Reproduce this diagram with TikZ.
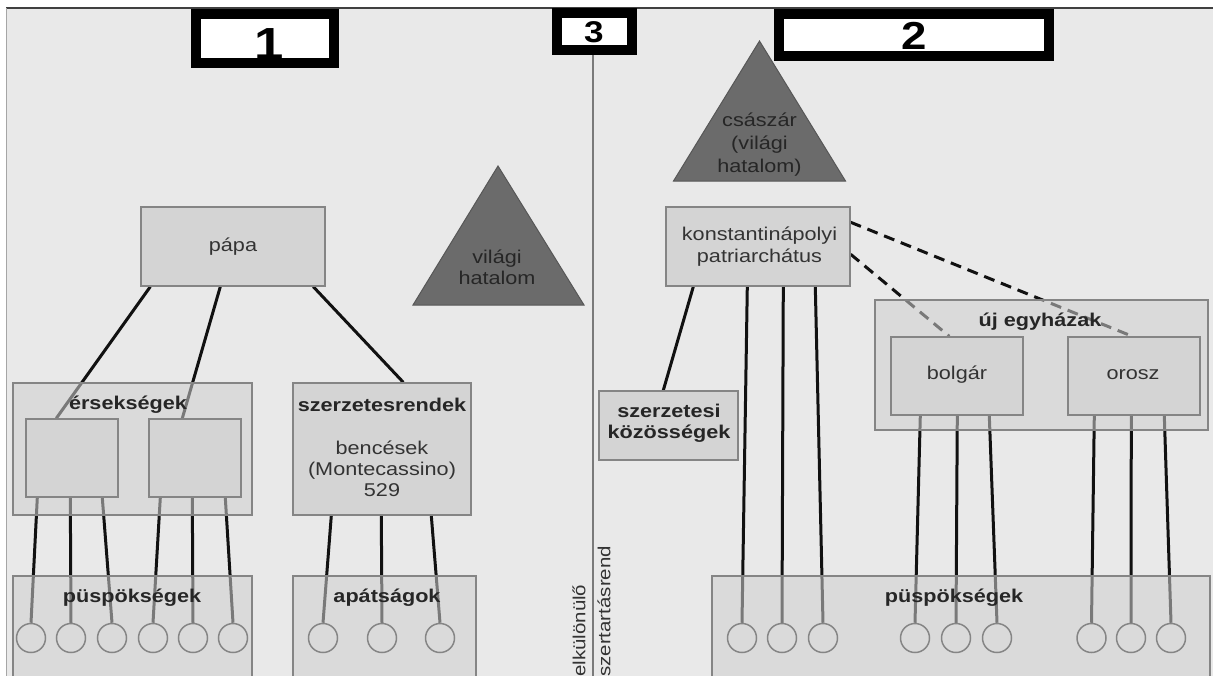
\documentclass[tikz,border=0pt]{standalone}
\usepackage{fontspec}
\setmainfont{Liberation Sans}[FakeStretch=1.17]
\usetikzlibrary{calc}
\pgfdeclarelayer{back}
\pgfdeclarelayer{lines}
\pgfsetlayers{back,lines,main}
\definecolor{bgc}{HTML}{E9E9E9}
\definecolor{boxc}{HTML}{D4D4D4}
\definecolor{contc}{HTML}{CFCFCF}
\definecolor{bordc}{HTML}{858585}
\definecolor{txtc}{HTML}{333333}
\definecolor{tric}{HTML}{6B6B6B}
\definecolor{tribd}{HTML}{575757}
\definecolor{linec}{HTML}{111111}
\definecolor{circc}{HTML}{858585}
\definecolor{sepc}{HTML}{7A7A7A}
\tikzset{
  sbox/.style 2 args={draw=bordc, fill=boxc, line width=1.4pt, inner sep=0pt, minimum width=#1, minimum height=#2},
  cbox/.style 2 args={draw=bordc, fill=contc, fill opacity=0.55, line width=1.4pt, inner sep=0pt, minimum width=#1, minimum height=#2},
  numbox/.style 2 args={draw=black, fill=white, line width=10pt, inner sep=0pt, minimum width=#1, minimum height=#2},
  conn/.style={draw=linec, line width=3pt},
  dconn/.style={conn, dash pattern=on 11pt off 7pt},
  circ/.style={circle, draw=circc, line width=1.5pt, minimum size=29, inner sep=0pt},
  txt/.style={font=\fontsize{18.5}{22}\selectfont, text=txtc, align=center, inner sep=0pt},
  btxt/.style={font=\fontsize{18.5}{21}\selectfont\bfseries, text=black!85, align=center, inner sep=0pt},
  trtxt/.style={font=\fontsize{18.5}{21}\selectfont, text=black!85, align=center, inner sep=0pt},
  rtxt/.style={font=\fontsize{17.5}{20}\selectfont, text=txtc, inner sep=0pt, rotate=90, anchor=west},
  numtxt/.style={font=\fontsize{#1}{#1}\selectfont\bfseries, text=black, inner sep=0pt},
  trif/.style={fill=tric, draw=tribd, line width=1pt, line join=miter}
}
\begin{document}
\begin{tikzpicture}[x=1pt,y=-1pt]
\useasboundingbox (0,0) rectangle (1213,675);
\begin{pgfonlayer}{back}
  \fill[white] (0,0) rectangle (1213,675);
  \fill[bgc] (6,8) rectangle (1213,676);
  \draw[black!75, line width=1.5pt] (6,8) -- (1213,8);
  \draw[black!35, line width=1pt] (6,8) -- (6,676);
\end{pgfonlayer}

% number boxes
\node[numbox={138}{49.5}] (b1) at (265,38.5) {};
\node[numtxt=45] (n1) at (269.5,44) {1};
\node[numbox={75.5}{37.5}] (b3) at (594.5,31.5) {};
\node[numtxt=30] (n3) at (594,32) {3};
\node[numbox={270}{42}] (b2) at (914,35) {};
\node[numtxt=39] (n2) at (914,36) {2};

% separator
\coordinate (sepB) at (593,676);

% triangles
\coordinate (t1a) at (498,166);
\coordinate (t1b) at (584,305);
\coordinate (t1c) at (413,305);
\filldraw[trif] (t1a) -- (t1b) -- (t1c) -- cycle;
\node[trtxt] (vh) at (497,267) {világi\\hatalom};
\coordinate (t2a) at (759.5,41);
\coordinate (t2b) at (845.5,181);
\coordinate (t2c) at (673.5,181);
\filldraw[trif] (t2a) -- (t2b) -- (t2c) -- cycle;
\node[trtxt, font=\fontsize{18.5}{23}\selectfont] (csz) at (759.5,145) {császár\\(világi\\hatalom)};

% left side
\node[sbox={184}{79}] (papa) at (233,246.5) {};
\node[txt] (papat) at (233,247) {pápa};
\node[cbox={239}{132}] (erseg) at (132.5,449) {};
\node[btxt] (ersegt) at (128,405) {érsekségek};
\node[sbox={92}{78}] (e1) at (72,458) {};
\node[sbox={92}{78}] (e2) at (195,458) {};
\node[sbox={178}{132}] (szr) at (382,449) {};
\node[btxt] (szrt) at (382,405) {szerzetesrendek};
\node[txt, font=\fontsize{18.5}{21}\selectfont] (benc) at (382,469) {bencések\\(Montecassino)\\529};
\node[cbox={239}{114}] (pusp1) at (132.5,633) {};
\node[btxt] (pusp1t) at (132,598) {püspökségek};
\node[cbox={183}{114}] (apat) at (384.5,633) {};
\node[btxt] (apatt) at (387,598) {apátságok};
\foreach \n/\x in {c1/31,c2/71,c3/112,c4/153,c5/193,c6/233,a1/323,a2/382,a3/440}
  \node[circ] (\n) at (\x,638) {};

% right side
\node[sbox={184}{79}] (konst) at (758,246.5) {};
\node[txt] (konstt) at (759.5,246.5) {konstantinápolyi\\patriarchátus};
\node[sbox={139}{69}] (szk) at (668.5,425.5) {};
\node[btxt] (szkt) at (669,423) {szerzetesi\\közösségek};
\node[cbox={333}{130}] (uj) at (1041.5,365) {};
\node[btxt] (ujt) at (1040,322) {új egyházak};
\node[sbox={132}{78}] (bolg) at (957,376) {};
\node[txt] (bolgt) at (957,375) {bolgár};
\node[sbox={132}{78}] (orosz) at (1134,376) {};
\node[txt] (oroszt) at (1133,375) {orosz};
\node[cbox={498}{114}] (pusp2) at (961,633) {};
\node[btxt] (pusp2t) at (954,598) {püspökségek};
\foreach \n/\x in {r1/742,r2/782,r3/823,r4/915,r5/956,r6/997,r7/1091.5,r8/1131,r9/1171}
  \node[circ] (\n) at (\x,638) {};

% rotated text
\node[rtxt] (elk) at (579,677) {elkülönülő};
\node[rtxt] (szt) at (604,677) {szertartásrend};

% connectors
\begin{pgfonlayer}{lines}
  \draw[sepc, line width=1.5pt] ([xshift=-1.5pt]b3.south) -- (sepB);
  \draw[conn] ([xshift=10pt]papa.south west) -- ([xshift=31pt]e1.north west);
  \draw[conn] ([xshift=80pt]papa.south west) -- ([xshift=34pt]e2.north west);
  \draw[conn] ([xshift=173pt]papa.south west) -- ([xshift=111pt]szr.north west);
  \draw[conn] ([xshift=12pt]e1.south west) -- (c1.north);
  \draw[conn] ([xshift=45pt]e1.south west) -- (c2.north);
  \draw[conn] ([xshift=77pt]e1.south west) -- (c3.north);
  \draw[conn] ([xshift=12pt]e2.south west) -- (c4.north);
  \draw[conn] ([xshift=44pt]e2.south west) -- (c5.north);
  \draw[conn] ([xshift=77pt]e2.south west) -- (c6.north);
  \draw[conn] ([xshift=39pt]szr.south west) -- (a1.north);
  \draw[conn] ([xshift=89pt]szr.south west) -- (a2.north);
  \draw[conn] ([xshift=139pt]szr.south west) -- (a3.north);
  \draw[conn] ([xshift=28pt]konst.south west) -- ([xshift=65pt]szk.north west);
  \draw[conn] ([xshift=82pt]konst.south west) -- (r1.north);
  \draw[conn] ([xshift=118pt]konst.south west) -- (r2.north);
  \draw[conn] ([xshift=150pt]konst.south west) -- (r3.north);
  \draw[dconn] ([yshift=-16pt]konst.north east) -- ([xshift=65pt]orosz.north west);
  \draw[dconn] ([yshift=-48pt]konst.north east) -- ([xshift=59pt]bolg.north west);
  \draw[conn] ([xshift=30pt]bolg.south west) -- (r4.north);
  \draw[conn] ([xshift=67pt]bolg.south west) -- (r5.north);
  \draw[conn] ([xshift=99pt]bolg.south west) -- (r6.north);
  \draw[conn] ([xshift=27pt]orosz.south west) -- (r7.north);
  \draw[conn] ([xshift=64pt]orosz.south west) -- (r8.north);
  \draw[conn] ([xshift=97pt]orosz.south west) -- (r9.north);
\end{pgfonlayer}
\end{tikzpicture}
\end{document}
